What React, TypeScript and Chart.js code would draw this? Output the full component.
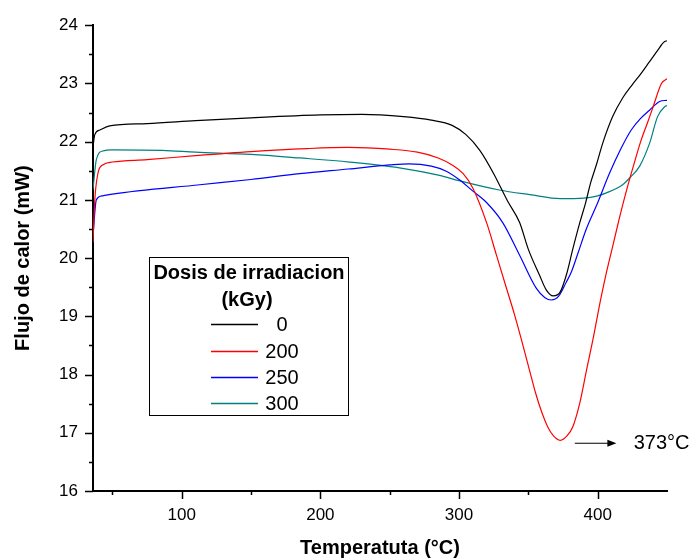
import { useEffect, useRef } from "react";
import { Chart, registerables } from "chart.js";

Chart.register(...registerables);

// Irradiation doses (kGy) and their line colours
const doses = ["0", "200", "250", "300"];
const colors = ["#000000", "#ff0000", "#0000ff", "#008080"];

// DSC heat-flow traces: temperature (°C) and heat flow (mW)
const temp0 = [36, 37.3, 41, 48, 75, 110, 150, 200, 230, 260, 280, 295, 305, 315, 325, 335, 343.7, 350, 358, 363, 368, 373, 377.4, 382, 387, 391.3, 395, 399.3, 403.6, 410.8, 418, 425, 430, 437, 443, 448.3, 450];
const flux0 = [21.92, 22.12, 22.2, 22.27, 22.31, 22.36, 22.41, 22.46, 22.47, 22.43, 22.37, 22.28, 22.12, 21.85, 21.45, 20.98, 20.61, 20.15, 19.71, 19.45, 19.35, 19.42, 19.71, 20.15, 20.6, 20.95, 21.3, 21.62, 21.97, 22.43, 22.75, 22.98, 23.13, 23.36, 23.56, 23.72, 23.73];

const temp200 = [36, 37.3, 39.6, 43, 50, 75, 110, 150, 190, 220, 250, 270, 285, 295, 303, 310, 320, 327, 334, 340, 345, 350, 355, 360, 364, 368, 373, 378, 382, 387, 392, 397, 401.4, 406, 411, 416, 421, 426, 431, 436, 440, 446, 450];
const flux200 = [20.27, 21.0, 21.46, 21.6, 21.65, 21.69, 21.76, 21.83, 21.88, 21.9, 21.87, 21.82, 21.72, 21.6, 21.45, 21.2, 20.6, 20.05, 19.5, 19.03, 18.6, 18.15, 17.7, 17.33, 17.1, 16.95, 16.87, 16.95, 17.1, 17.5, 18.08, 18.65, 19.2, 19.72, 20.22, 20.72, 21.18, 21.6, 22.0, 22.33, 22.6, 23.0, 23.08];

const temp250 = [36, 38.4, 43, 50, 113, 150, 185, 220, 250, 264, 280, 290, 300, 310, 320, 331.5, 343.7, 355.8, 362, 366.6, 372, 377.4, 381, 386, 391.8, 400, 408.6, 417, 424.2, 431, 437.4, 444.7, 450];
const flux250 = [20.39, 21.0, 21.07, 21.1, 21.26, 21.35, 21.45, 21.53, 21.6, 21.62, 21.58, 21.5, 21.35, 21.15, 20.95, 20.61, 20.05, 19.48, 19.32, 19.28, 19.35, 19.59, 19.76, 20.1, 20.5, 20.95, 21.46, 21.89, 22.2, 22.4, 22.54, 22.69, 22.71];

const temp300 = [36, 38.4, 43, 50, 86, 110, 150, 185, 221, 257, 286, 300, 329, 351, 373, 390, 400, 406.3, 418, 424, 430.3, 437.4, 443.2, 448.3, 450];
const flux300 = [21.18, 21.69, 21.84, 21.86, 21.85, 21.82, 21.78, 21.72, 21.65, 21.55, 21.42, 21.33, 21.17, 21.09, 21.02, 21.03, 21.07, 21.12, 21.26, 21.4, 21.58, 21.97, 22.43, 22.6, 22.62];

const temps = [temp0, temp200, temp250, temp300];
const fluxes = [flux0, flux200, flux250, flux300];

// Axis ranges and tick positions
const xMin = 36;
const xMax = 450;
const xTicks = [50, 100, 150, 200, 250, 300, 350, 400];
const yMin = 16;
const yMax = 24;
const yTicks = [16, 16.5, 17, 17.5, 18, 18.5, 19, 19.5, 20, 20.5, 21, 21.5, 22, 22.5, 23, 23.5, 24];

// Endothermic peak of the 200 kGy trace, marked with an arrow
const peakTemp = 373;
const arrowY = 16.82;
const arrowFrom = 383.5;
const arrowTo = 413.5;
const labelAt = 426;

const FONT = '"Liberation Sans", Arial, sans-serif';

const decorations = {
  id: "decorations",
  afterDraw(chart: any) {
    const ctx = chart.ctx;
    const xs = chart.scales.x;
    const ys = chart.scales.y;
    const area = chart.chartArea;
    ctx.save();

    // major / minor tick marks
    ctx.strokeStyle = "#000";
    ctx.lineWidth = 1.5;
    ctx.beginPath();
    xs.ticks.forEach((t: any) => {
      const px = Math.round(xs.getPixelForValue(t.value)) + 0.5;
      const len = t.value % 100 === 0 ? 8 : 4;
      ctx.moveTo(px, area.bottom);
      ctx.lineTo(px, area.bottom + len);
    });
    ys.ticks.forEach((t: any) => {
      const py = Math.round(ys.getPixelForValue(t.value)) + 0.5;
      const len = Number.isInteger(t.value) ? 8 : 4;
      ctx.moveTo(area.left, py);
      ctx.lineTo(area.left - len, py);
    });
    ctx.stroke();

    // axis titles
    ctx.fillStyle = "#000";
    ctx.font = `bold 20px ${FONT}`;
    ctx.textAlign = "center";
    ctx.textBaseline = "alphabetic";
    ctx.fillText("Temperatuta (°C)", (area.left + area.right) / 2, 554);
    ctx.save();
    ctx.translate(28.5, (area.top + area.bottom) / 2);
    ctx.rotate(-Math.PI / 2);
    ctx.fillText("Flujo de calor (mW)", 0, 0);
    ctx.restore();

    // legend box
    const boxL = 149.5;
    const boxR = 348.5;
    const boxMid = (boxL + boxR) / 2;
    ctx.lineWidth = 1;
    ctx.strokeStyle = "#000";
    ctx.strokeRect(boxL, 257.5, boxR - boxL, 158);
    ctx.textBaseline = "middle";
    ctx.font = `bold 20px ${FONT}`;
    ctx.fillText("Dosis de irradiacion", boxMid, 273);
    ctx.fillText("(kGy)", boxMid - 2, 300);
    const rows = [324, 351, 377, 403];
    ctx.font = `20px ${FONT}`;
    doses.forEach((d, i) => {
      ctx.strokeStyle = colors[i];
      ctx.lineWidth = 1.3;
      ctx.beginPath();
      ctx.moveTo(211, rows[i] + 0.5);
      ctx.lineTo(258, rows[i] + 0.5);
      ctx.stroke();
      ctx.fillStyle = "#000";
      ctx.fillText(d, 282, rows[i] + 1.5);
    });

    // peak annotation
    const ay = ys.getPixelForValue(arrowY);
    const ax0 = xs.getPixelForValue(arrowFrom);
    const ax1 = xs.getPixelForValue(arrowTo);
    ctx.strokeStyle = "#000";
    ctx.lineWidth = 1.2;
    ctx.beginPath();
    ctx.moveTo(ax0, ay);
    ctx.lineTo(ax1 - 6, ay);
    ctx.stroke();
    ctx.fillStyle = "#000";
    ctx.beginPath();
    ctx.moveTo(ax1, ay);
    ctx.lineTo(ax1 - 9, ay - 3.5);
    ctx.lineTo(ax1 - 9, ay + 3.5);
    ctx.closePath();
    ctx.fill();
    ctx.font = `20px ${FONT}`;
    ctx.textAlign = "left";
    ctx.fillText(`${peakTemp}°C`, xs.getPixelForValue(labelAt), ay);

    ctx.restore();
  },
};

export default function App() {
  const canvasRef = useRef<HTMLCanvasElement | null>(null);

  useEffect(() => {
    if (!canvasRef.current) return;
    const chart = new Chart(canvasRef.current, {
      type: "line",
      data: {
        datasets: doses.map((d, i) => ({
          label: d,
          data: temps[i].map((t, k) => ({ x: t, y: fluxes[i][k] })),
          borderColor: colors[i],
          borderWidth: 1.2,
          pointRadius: 0,
          fill: false,
          cubicInterpolationMode: "monotone" as const,
        })),
      },
      options: {
        responsive: false,
        animation: false,
        events: [],
        layout: { padding: { top: 21, right: 29, left: 0, bottom: 0 } },
        plugins: {
          legend: { display: false },
          tooltip: { enabled: false },
          title: { display: false },
        },
        scales: {
          x: {
            type: "linear",
            min: xMin,
            max: xMax,
            afterBuildTicks: (s: any) => {
              s.ticks = xTicks.map((v) => ({ value: v }));
            },
            afterFit: (s: any) => {
              s.height = 67;
            },
            grid: { display: false, drawTicks: false },
            border: { display: true, color: "#000", width: 2 },
            ticks: {
              autoSkip: false,
              maxRotation: 0,
              padding: 14,
              color: "#000",
              font: { family: FONT, size: 17 },
              callback: (v: any) => (Number(v) % 100 === 0 ? String(v) : ""),
            },
          },
          y: {
            type: "linear",
            min: yMin,
            max: yMax,
            afterBuildTicks: (s: any) => {
              s.ticks = yTicks.map((v) => ({ value: v }));
            },
            afterFit: (s: any) => {
              s.width = 93;
            },
            grid: { display: false, drawTicks: false },
            border: { display: true, color: "#000", width: 2 },
            ticks: {
              autoSkip: false,
              padding: 15,
              color: "#000",
              font: { family: FONT, size: 17 },
              callback: (v: any) => (Number.isInteger(Number(v)) ? String(v) : ""),
            },
          },
        },
      },
      plugins: [decorations],
    });
    return () => chart.destroy();
  }, []);

  return (
    <div style={{ position: "absolute", left: 0, top: 0, width: 696, height: 558, background: "#fff" }}>
      <canvas ref={canvasRef} width={696} height={558} />
    </div>
  );
}
